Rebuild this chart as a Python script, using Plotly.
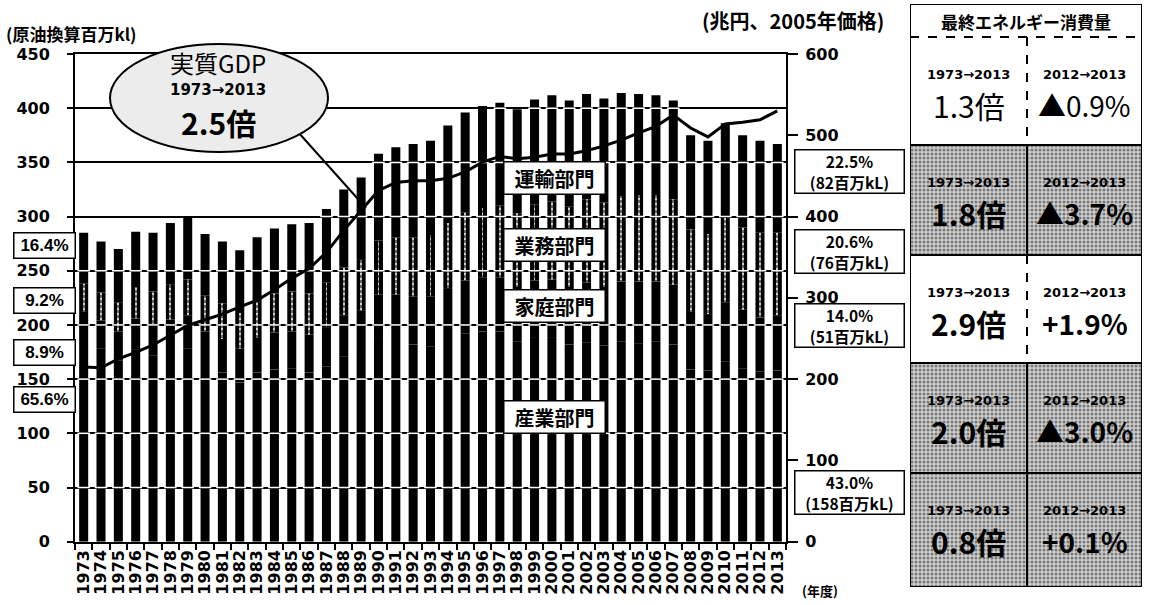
import plotly.graph_objects as go

W, H = 1155, 605

# ---- data -------------------------------------------------------------
years = [str(y) for y in range(1973, 2014)]

# final energy consumption by sector (million kL, crude-oil equivalent)
industry = [187, 178, 167, 177, 172, 175, 178, 163, 156, 147,
            156, 159, 160, 156, 162, 171, 174, 188, 186, 182,
            180, 187, 192, 194, 194, 185, 188, 188, 182, 184,
            181, 185, 183, 185, 182, 159, 158, 166, 160, 157,
            158]
household = [25, 26, 27, 29, 29, 30, 31, 31, 31, 31,
             32, 34, 34, 35, 36, 38, 39, 40, 42, 44,
             46, 47, 49, 50, 50, 50, 53, 54, 53, 55,
             54, 55, 57, 55, 55, 53, 52, 55, 54, 50,
             51]
business = [26, 26, 27, 29, 30, 32, 33, 33, 33, 33,
            34, 36, 37, 38, 41, 44, 47, 50, 53, 55,
            57, 60, 63, 64, 66, 68, 70, 72, 74, 77,
            78, 79, 80, 80, 79, 76, 74, 78, 76, 78,
            76]
transport = [47, 47, 49, 51, 54, 57, 58, 57, 57, 58,
             59, 60, 62, 65, 68, 72, 76, 80, 83, 86,
             87, 90, 92, 94, 95, 96, 97, 98, 98, 97,
             96, 95, 93, 92, 91, 87, 86, 87, 85, 85,
             82]

# real GDP (trillion yen, 2005 prices)
real_gdp = [215, 214, 225, 233, 242, 254, 266, 273, 280, 289,
            297, 310, 324, 336, 356, 383, 408, 432, 442, 444,
            444, 447, 455, 467, 474, 471, 473, 477, 477, 481,
            487, 494, 503, 511, 525, 509, 498, 514, 516, 519,
            530]

left_ticks = [0, 50, 100, 150, 200, 250, 300, 350, 400, 450]
right_ticks = [0, 100, 200, 300, 400, 500, 600]

share_1973 = ["16.4%", "9.2%", "8.9%", "65.6%"]          # transport, business, household, industry
share_2013 = ["22.5%", "20.6%", "14.0%", "43.0%"]
amount_2013 = [transport[-1], business[-1], household[-1], industry[-1]]
sector_names = ["運輸部門", "業務部門", "家庭部門", "産業部門"]

table_long = ["1.3倍", "1.8倍", "2.9倍", "2.0倍", "0.8倍"]     # total, transport, business, household, industry
table_short = ["▲0.9%", "▲3.7%", "+1.9%", "▲3.0%", "+0.1%"]

# ---- helpers ----------------------------------------------------------
JP = "Noto Sans CJK JP"
NUM = "DejaVu Sans"
ARIAL = "Liberation Sans"


def fx(px):
    return px / W


def fy(py):
    return 1 - py / H


base_house = list(industry)
base_bus = [a + b for a, b in zip(industry, household)]
base_trans = [a + b + c for a, b, c in zip(industry, household, business)]
totals = [a + b for a, b in zip(base_trans, transport)]

fig = go.Figure()

# stacked sector bars (all printed in black)
for vals, base in [(industry, [0] * len(years)), (household, base_house),
                   (business, base_bus), (transport, base_trans)]:
    fig.add_trace(go.Bar(x=years, y=vals, base=base, width=0.52,
                         marker=dict(color="black", line=dict(width=0)),
                         hoverinfo="skip", showlegend=False))

# faint light stripe inside the business segment
fig.add_trace(go.Bar(x=years, y=business, base=base_bus, width=0.05,
                     marker=dict(color="white", line=dict(width=0),
                                 pattern=dict(shape="-", fgcolor="black", bgcolor="white",
                                              size=5, solidity=0.6)),
                     opacity=0.8, hoverinfo="skip", showlegend=False))

# gridlines show through the bars as thin white breaks
gx, gy = [], []
for yr, tot in zip(years, totals):
    for g in left_ticks[1:]:
        if g < tot - 3:
            gx.append(yr)
            gy.append(g)
fig.add_trace(go.Scatter(x=gx, y=gy, mode="markers",
                         marker=dict(symbol="line-ew", size=9,
                                     line=dict(color="white", width=1.5)),
                         hoverinfo="skip", showlegend=False))

# real GDP line on the right axis
fig.add_trace(go.Scatter(x=years, y=real_gdp, yaxis="y2", mode="lines",
                         line=dict(color="black", width=3),
                         hoverinfo="skip", showlegend=False))

# ---- side table ---------------------------------------------------------
row_edges = [37, 145, 255, 363, 473, 587]
shaded = [False, True, False, True, True]
TX0, TX1, TXM = 910, 1142, 1027
for i, sh in enumerate(shaded):
    if not sh:
        continue
    t, b = row_edges[i], row_edges[i + 1]
    fig.add_trace(go.Scatter(x=[TX0, TX1, TX1, TX0, TX0], y=[t, t, b, b, t],
                             xaxis="x3", yaxis="y3", mode="lines", fill="toself",
                             fillcolor="#c8c8c8",
                             fillpattern=dict(shape=".", fgcolor="#202020", bgcolor="#cfcfcf",
                                              size=4, solidity=0.45),
                             line=dict(width=0), hoverinfo="skip", showlegend=False))

shapes = []
# GDP callout
shapes.append(dict(type="line", xref="paper", yref="paper",
                   x0=fx(298), y0=fy(132), x1=fx(366), y1=fy(208),
                   line=dict(color="black", width=2), layer="above"))
shapes.append(dict(type="circle", xref="paper", yref="paper",
                   x0=fx(110), x1=fx(328), y0=fy(152), y1=fy(44),
                   fillcolor="#ececec", line=dict(color="black", width=2), layer="above"))

# table frame
shapes.append(dict(type="rect", xref="x3", yref="y3", x0=TX0, x1=TX1, y0=4, y1=587,
                   line=dict(color="black", width=2), layer="above"))
shapes.append(dict(type="line", xref="x3", yref="y3", x0=TX0, x1=TX1, y0=37, y1=37,
                   line=dict(color="black", width=2, dash="dash"), layer="above"))
for yv in row_edges[1:-1]:
    shapes.append(dict(type="line", xref="x3", yref="y3", x0=TX0, x1=TX1, y0=yv, y1=yv,
                       line=dict(color="black", width=2), layer="above"))
for i in range(5):
    shapes.append(dict(type="line", xref="x3", yref="y3", x0=TXM, x1=TXM,
                       y0=row_edges[i], y1=row_edges[i + 1],
                       line=dict(color="black", width=2,
                                 dash="solid" if shaded[i] else "dash"), layer="above"))

ann = []


def note(text, x, y, size, family=JP, xanchor="center", xref="paper", yref="paper", **kw):
    ann.append(dict(text=text, x=x, y=y, xref=xref, yref=yref, xanchor=xanchor,
                    yanchor="middle", showarrow=False,
                    font=dict(family=family, size=size, color="black"), **kw))


# axis titles
note("<b>(原油換算百万kl)</b>", fx(4), fy(34), 17, xanchor="left")
note("<b>(兆円、2005年価格)</b>", fx(700), fy(21), 20, xanchor="left")
note("<b>(年度)</b>", fx(800), fy(590), 13, xanchor="left")

# GDP bubble text
note("実質GDP", fx(218), fy(63), 24)
note("<b>1973→2013</b>", fx(218), fy(90), 15, family=NUM)
note("<b>2.5倍</b>", fx(218), fy(122), 30)

# sector name boxes
for name, cy in zip(sector_names, [178, 245, 306, 417]):
    note("<b>%s</b>" % name, fx(554.5), fy(cy), 20, bgcolor="white",
         bordercolor="black", borderwidth=1.5, borderpad=2, width=96, height=27)

# 1973 shares (left)
for txt, cy in zip(share_1973, [245, 300, 352, 399]):
    note("<b>%s</b>" % txt, fx(44.5), fy(cy), 17, family=ARIAL, bgcolor="white",
         bordercolor="black", borderwidth=1.5, borderpad=2, width=56, height=20)

# 2013 shares (right)
for txt, amt, cy in zip(share_2013, amount_2013, [171, 251, 325, 492]):
    note("<b>%s<br>(%d百万kL)</b>" % (txt, amt), fx(850), fy(cy), 15.5, bgcolor="white",
         bordercolor="black", borderwidth=1.5, borderpad=1, width=106, height=40)

# table text
note("<b>最終エネルギー消費量</b>", (TX0 + TX1) / 2, 21, 17, xref="x3", yref="y3")
for i in range(5):
    top = row_edges[i]
    big = table_long[i] if i == 0 else "<b>%s</b>" % table_long[i]
    big2 = table_short[i] if i == 0 else "<b>%s</b>" % table_short[i]
    note("<b>1973→2013</b>", (TX0 + TXM) / 2, top + 37, 13, family=NUM, xref="x3", yref="y3")
    note("<b>2012→2013</b>", (TXM + TX1) / 2, top + 37, 13, family=NUM, xref="x3", yref="y3")
    note(big, (TX0 + TXM) / 2, top + 68, 30, xref="x3", yref="y3")
    note(big2, (TXM + TX1) / 2, top + 68, 28, xref="x3", yref="y3")

tick_font = dict(family=NUM, size=16, color="black", weight="bold")

fig.update_layout(
    width=W, height=H,
    margin=dict(l=0, r=0, t=0, b=0),
    paper_bgcolor="white", plot_bgcolor="white",
    barmode="overlay", showlegend=False,
    xaxis=dict(domain=[fx(75), fx(786)], type="category", anchor="y",
               range=[-0.5, len(years) - 0.5], tickmode="array", tickvals=years,
               tickangle=-90, tickfont=dict(family=NUM, size=16, color="black", weight="bold"),
               ticks="outside", tickson="boundaries", ticklen=6, tickwidth=1.5,
               tickcolor="black", showline=True, linecolor="black", linewidth=2,
               mirror=True, showgrid=False, automargin=False),
    yaxis=dict(domain=[fy(541.7), fy(54)], range=[0, 450], tickvals=left_ticks,
               showgrid=True, gridcolor="black", gridwidth=1.5, zeroline=False,
               showline=True, linecolor="black", linewidth=2, ticks="outside",
               ticklen=6, tickwidth=1.5, tickcolor="black", tickfont=tick_font,
               ticklabelstandoff=14, automargin=False),
    yaxis2=dict(overlaying="y", side="right", anchor="x", range=[0, 600],
                tickvals=right_ticks, showgrid=False, zeroline=False,
                showline=True, linecolor="black", linewidth=2, ticks="outside",
                ticklen=10, tickwidth=1.5, tickcolor="black", tickfont=tick_font,
                ticklabelstandoff=4, automargin=False),
    xaxis3=dict(domain=[fx(910), fx(1142)], range=[910, 1142], anchor="y3",
                visible=False, fixedrange=True),
    yaxis3=dict(domain=[fy(587), fy(4)], range=[587, 4], anchor="x3",
                visible=False, fixedrange=True),
    shapes=shapes,
    annotations=ann,
)

fig.write_html("out.html")
